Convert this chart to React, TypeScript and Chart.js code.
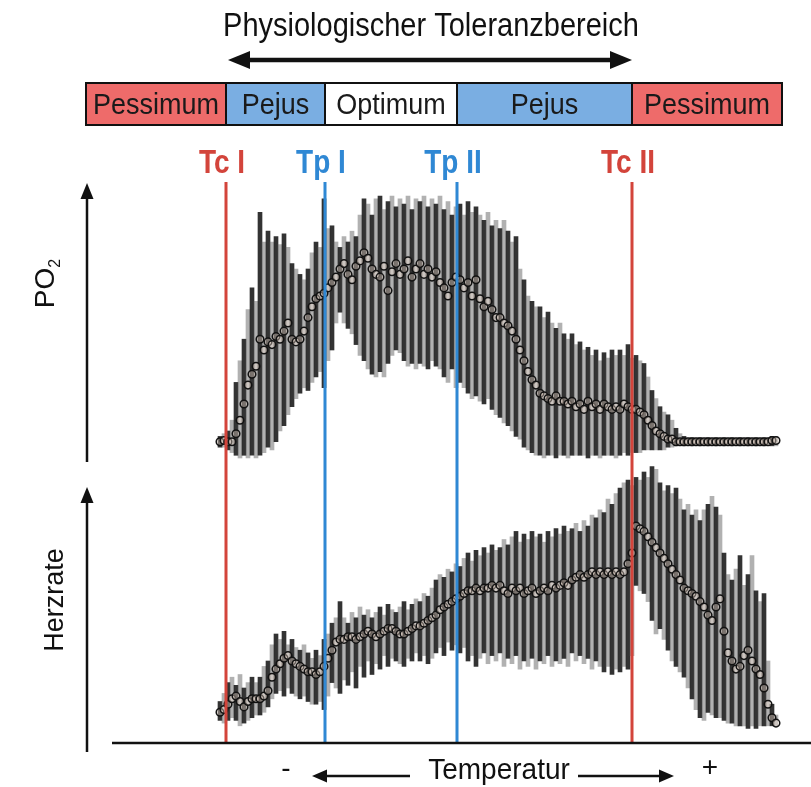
import React, { useEffect, useRef } from "react";
import { Chart, registerables } from "chart.js";

Chart.register(...registerables);

// PO2 per temperature step: mean with lower / upper limits of the spread
const po2Mean = [
  6, 6.5, 6, 6, 9, 14, 20, 27, 31, 34,
  44, 40, 43, 42, 45, 44, 47, 50, 44, 43,
  44, 47, 52, 56, 59, 60, 61, 63, 65, 67,
  70, 72, 68, 66, 71, 73, 76, 74, 70, 68,
  67, 71, 62, 69, 72, 68, 70, 73, 67, 70,
  72, 68, 70, 67, 69, 65, 63, 60, 65, 67,
  66, 63, 65, 60, 66, 59, 56, 58, 55, 52,
  52, 50, 49, 47, 44, 40, 36, 32, 29, 27,
  24, 23, 22, 21, 23, 21, 21, 20, 21, 19,
  20, 18, 21, 19, 20, 18, 20, 19, 18, 19,
  18, 20, 19, 18, 18, 17, 16, 14, 12, 10,
  9, 8, 7, 7, 6, 6, 6, 6, 6, 6,
  6, 6, 6, 6, 6, 6, 6, 6, 6, 6,
  6, 6, 6, 6, 6, 6, 6, 6, 6.5, 6.5,
];
const po2Low = [
  4, 4, 3, 2, 1, 0, 1, 0, 1, 0,
  1, 2, 4, 3, 6, 10, 12, 16, 19, 22,
  24, 26, 25, 28, 30, 32, 26, 36, 40, 50,
  54, 50, 48, 46, 42, 38, 36, 33, 31, 30,
  32, 30, 35, 38, 40, 39, 36, 34, 35, 33,
  35, 34, 33, 36, 34, 33, 30, 28, 33, 26,
  28, 26, 24, 22, 23, 21, 20, 22, 18, 16,
  15, 13, 12, 10, 8, 7, 4, 3, 2, 1,
  1, 0, 1, 1, 0, 1, 1, 0, 1, 1,
  1, 1, 0, 1, 1, 0, 1, 1, 1, 0,
  1, 2, 1, 2, 2, 2, 3, 3, 3, 3,
  3, 3, 4, 4, 4.5, 4.5, 4.5, 4.5, 4.5, 4.5,
  4.5, 4.5, 4.5, 4.5, 4.5, 4.5, 4.5, 4.5, 4.5, 4.5,
  4.5, 4.5, 4.5, 4.5, 4.5, 4.5, 4.5, 4.5, 4.5, 4.5,
];
const po2High = [
  8, 9, 10, 14, 28, 36, 44, 55, 63, 58,
  91, 80, 84, 80, 82, 79, 83, 78, 72, 70,
  68, 66, 70, 76, 80, 78, 96, 85, 86, 80,
  78, 82, 80, 84, 82, 90, 96, 94, 90, 96,
  97, 92, 95, 97, 93, 96, 94, 97, 92, 96,
  95, 97, 93, 96, 94, 97, 92, 95, 90, 93,
  94, 90, 95, 91, 93, 90, 88, 91, 86, 88,
  85, 88, 84, 80, 82, 70, 66, 60, 58, 56,
  56, 52, 54, 50, 48, 50, 46, 44, 46, 42,
  43, 40, 41, 38, 40, 36, 39, 37, 40, 38,
  40, 38, 42, 37, 38, 36, 35, 30, 25, 22,
  19, 17, 16, 14, 11, 9, 8, 7.5, 7.5, 7.5,
  7.5, 7.5, 7.5, 7.5, 7.5, 7.5, 7.5, 7.5, 7.5, 7.5,
  7.5, 7.5, 7.5, 7.5, 7.5, 7.5, 7.5, 7.5, 8, 8,
];

// heart rate per temperature step: mean with lower / upper limits
const hrMean = [
  11, 12, 14, 16, 17, 15, 13, 15, 16, 16,
  16, 17, 19, 24, 27, 29, 31, 32, 30, 29,
  28, 27, 26, 26, 25, 26, 28, 31, 34, 37,
  38, 38, 39, 39, 38, 39, 40, 41, 40, 39,
  40, 41, 42, 42, 41, 40, 40, 41, 42, 43,
  43, 44, 45, 46, 47, 49, 50, 51, 52, 53,
  54, 55, 56, 56, 57, 56, 57, 57, 58, 57,
  58, 56, 55, 57, 56, 57, 55, 56, 57, 55,
  56, 57, 56, 58, 57, 58, 59, 58, 60, 61,
  62, 61, 62, 63, 62, 63, 62, 63, 62, 63,
  62, 63, 66, 70, 80, 79, 78, 76, 74, 72,
  70, 68, 66, 64, 62, 60, 57, 56, 55, 54,
  52, 50, 47, 45, 50, 53, 41, 33, 30, 27,
  28, 32, 34, 30, 27, 25, 20, 14, 9, 7,
];
const hrLow = [
  8, 7, 8, 9, 8, 6, 7, 8, 9, 10,
  10, 11, 13, 16, 18, 19, 17, 20, 18, 17,
  16, 17, 15, 14, 14, 15, 12, 17, 22, 20,
  18, 23, 21, 26, 20, 28, 24, 30, 25, 29,
  27, 32, 28, 31, 30, 29, 28, 31, 30, 33,
  30, 32, 29, 31, 33, 35, 32, 37, 34, 36,
  33, 35, 30, 32, 28, 31, 33, 29, 32, 30,
  33, 28, 31, 29, 32, 27, 30, 28, 31, 27,
  30, 29, 32, 28, 30, 29, 31, 28, 33, 30,
  32, 29, 31, 27, 30, 28, 26, 28, 25, 27,
  26, 28, 27, 32, 58, 56, 55, 52, 45, 40,
  42, 38, 34, 30, 28, 26, 24, 20, 16, 12,
  9, 8, 11, 10, 9, 9, 8, 7, 7, 6,
  6, 6, 5, 6, 5, 6, 6, 6, 6, 6,
];
const hrHigh = [
  15, 18, 22, 24, 21, 25, 20, 22, 24, 22,
  24, 28, 30, 36, 40, 38, 41, 36, 38, 35,
  34, 36, 33, 31, 34, 32, 38, 40, 44, 46,
  52, 46, 44, 48, 46, 50, 47, 49, 46, 48,
  50, 47, 51, 49, 48, 50, 52, 49, 51, 53,
  52, 55, 54, 57, 60, 62, 61, 64, 63, 66,
  65, 68, 70, 67, 71, 69, 72, 70, 73, 71,
  72, 75, 73, 76, 78, 74, 77, 75, 78, 76,
  77, 74, 78, 76, 79, 77, 80, 78, 79, 81,
  78, 82, 80, 84, 83, 86, 85, 90, 88, 92,
  94, 96, 97, 95, 98, 97, 100, 98, 102, 101,
  96, 93, 95, 92, 94, 90, 86, 88, 84, 86,
  82, 86, 88, 91, 87, 84, 70, 62, 60, 64,
  69, 58, 62, 69, 56, 52, 55, 30, 14, 10,
];

// thresholds on the temperature-step axis
const tcI = 1.5;
const tpI = 26.25;
const tpII = 59.25;
const tcII = 103;
const bandStart = -33.5;
const bandEnd = 140.5;

const zoneLabels = ["Pessimum", "Pejus", "Optimum", "Pejus", "Pessimum"];
const zoneBounds = [bandStart, tcI, tpI, tpII, tcII, bandEnd];
const thresholdLabels = ["Tc I", "Tp I", "Tp II", "Tc II"];
const thresholdValues = [tcI, tpI, tpII, tcII];

const FONT = '"Liberation Sans", Arial, Helvetica, sans-serif';
const RED_FILL = "#ee6b6a";
const BLUE_FILL = "#7aaee2";
const LINE_RED = "#d3443b";
const LINE_BLUE = "#2f88d4";
const zoneColors = [RED_FILL, BLUE_FILL, "#ffffff", BLUE_FILL, RED_FILL];
const thresholdColors = [LINE_RED, LINE_BLUE, LINE_BLUE, LINE_RED];

function stretchedText(
  ctx: CanvasRenderingContext2D,
  text: string,
  x: number,
  y: number,
  font: string,
  color: string,
  sy: number,
  align: CanvasTextAlign = "center"
) {
  ctx.save();
  ctx.translate(x, y);
  ctx.scale(1, sy);
  ctx.font = font;
  ctx.fillStyle = color;
  ctx.textAlign = align;
  ctx.textBaseline = "alphabetic";
  ctx.fillText(text, 0, 0);
  ctx.restore();
}

function arrowHead(
  ctx: CanvasRenderingContext2D,
  tipX: number,
  tipY: number,
  dx: number,
  dy: number,
  len: number,
  half: number
) {
  const bx = tipX - dx * len;
  const by = tipY - dy * len;
  ctx.beginPath();
  ctx.moveTo(tipX, tipY);
  ctx.lineTo(bx - dy * half, by + dx * half);
  ctx.lineTo(bx + dy * half, by - dx * half);
  ctx.closePath();
  ctx.fill();
}

const overlay = {
  id: "toleranceOverlay",
  afterDatasetsDraw(chart: any) {
    const ctx: CanvasRenderingContext2D = chart.ctx;
    const xs = chart.scales.x;
    const { top, bottom, left, right } = chart.chartArea;
    ctx.save();
    thresholdValues.forEach((v, i) => {
      const px = xs.getPixelForValue(v);
      ctx.strokeStyle = thresholdColors[i];
      ctx.lineWidth = 3;
      ctx.beginPath();
      ctx.moveTo(px, top);
      ctx.lineTo(px, bottom - 1);
      ctx.stroke();
    });
    ctx.strokeStyle = "#111";
    ctx.lineWidth = 2.5;
    ctx.beginPath();
    ctx.moveTo(left, bottom - 1);
    ctx.lineTo(right, bottom - 1);
    ctx.stroke();
    ctx.restore();
  },
  afterDraw(chart: any) {
    const ctx: CanvasRenderingContext2D = chart.ctx;
    const xs = chart.scales.x;
    ctx.save();

    // title and tolerance range arrow
    stretchedText(ctx, "Physiologischer Toleranzbereich", 431, 36, `29px ${FONT}`, "#111", 1.15);
    const a0 = xs.getPixelForValue(tcI) + 2;
    const a1 = xs.getPixelForValue(tcII);
    ctx.strokeStyle = "#111";
    ctx.fillStyle = "#111";
    ctx.lineWidth = 4.5;
    ctx.beginPath();
    ctx.moveTo(a0 + 16, 60);
    ctx.lineTo(a1 - 16, 60);
    ctx.stroke();
    arrowHead(ctx, a0, 60, -1, 0, 22, 9);
    arrowHead(ctx, a1, 60, 1, 0, 22, 9);

    // zone band
    const bTop = 83;
    const bBot = 125;
    for (let i = 0; i < zoneLabels.length; i++) {
      const l = xs.getPixelForValue(zoneBounds[i]);
      const r = xs.getPixelForValue(zoneBounds[i + 1]);
      ctx.fillStyle = zoneColors[i];
      ctx.fillRect(l, bTop, r - l, bBot - bTop);
      stretchedText(ctx, zoneLabels[i], (l + r) / 2, 114, `27px ${FONT}`, "#1a1a1a", 1.12);
    }
    ctx.strokeStyle = "#111";
    ctx.lineWidth = 2;
    const bl = xs.getPixelForValue(bandStart);
    const br = xs.getPixelForValue(bandEnd);
    ctx.strokeRect(bl, bTop, br - bl, bBot - bTop);
    for (let i = 1; i < zoneBounds.length - 1; i++) {
      const p = xs.getPixelForValue(zoneBounds[i]);
      ctx.beginPath();
      ctx.moveTo(p, bTop);
      ctx.lineTo(p, bBot);
      ctx.stroke();
    }

    // threshold labels
    thresholdValues.forEach((v, i) => {
      const px = xs.getPixelForValue(v);
      stretchedText(ctx, thresholdLabels[i], px - 4, 173, `bold 28px ${FONT}`, thresholdColors[i], 1.2);
    });

    // response axes arrows
    ctx.fillStyle = "#111";
    ctx.strokeStyle = "#111";
    ctx.lineWidth = 2.5;
    ctx.beginPath();
    ctx.moveTo(87, 462);
    ctx.lineTo(87, 195);
    ctx.moveTo(87, 752);
    ctx.lineTo(87, 499);
    ctx.stroke();
    arrowHead(ctx, 87, 183, 0, -1, 16, 6.5);
    arrowHead(ctx, 87, 487, 0, -1, 16, 6.5);

    // PO2 label
    ctx.save();
    ctx.translate(54, 284);
    ctx.rotate(-Math.PI / 2);
    ctx.fillStyle = "#111";
    ctx.textBaseline = "alphabetic";
    ctx.font = `28px ${FONT}`;
    const poW = ctx.measureText("PO").width;
    ctx.textAlign = "left";
    ctx.fillText("PO", -(poW + 8) / 2, 0);
    ctx.font = `16px ${FONT}`;
    ctx.fillText("2", -(poW + 8) / 2 + poW, 6);
    ctx.restore();

    // Herzrate label
    ctx.save();
    ctx.translate(63, 600);
    ctx.rotate(-Math.PI / 2);
    ctx.fillStyle = "#111";
    ctx.textAlign = "center";
    ctx.textBaseline = "alphabetic";
    ctx.font = `27px ${FONT}`;
    ctx.fillText("Herzrate", 0, 0);
    ctx.restore();

    // temperature axis labels
    stretchedText(ctx, "Temperatur", 499, 779, `28px ${FONT}`, "#111", 1.05);
    stretchedText(ctx, "-", 286, 777, `28px ${FONT}`, "#111", 1.0);
    stretchedText(ctx, "+", 710, 776, `28px ${FONT}`, "#111", 1.0);
    ctx.lineWidth = 2.5;
    ctx.beginPath();
    ctx.moveTo(410, 776);
    ctx.lineTo(324, 776);
    ctx.moveTo(578, 776);
    ctx.lineTo(662, 776);
    ctx.stroke();
    arrowHead(ctx, 312, 776, -1, 0, 15, 6.5);
    arrowHead(ctx, 674, 776, 1, 0, 15, 6.5);

    ctx.restore();
  },
};

const steps = po2Mean.map((_, i) => i);
const barColor = (c: any) =>
  c.dataIndex % 2 === 0 ? "rgba(15,15,15,0.85)" : "rgba(100,100,100,0.5)";

export default function App() {
  const ref = useRef<HTMLCanvasElement | null>(null);

  useEffect(() => {
    if (!ref.current) return;
    const pointStyle = {
      showLine: false,
      pointRadius: 3.8,
      pointBorderWidth: 1.5,
      pointBorderColor: "#121212",
      pointBackgroundColor: "rgba(255,236,220,0.35)",
      order: 0,
    };
    const chart = new Chart(ref.current, {
      type: "bar",
      data: {
        datasets: [
          {
            type: "line",
            label: "PO2",
            data: steps.map((s) => ({ x: s, y: po2Mean[s] })),
            yAxisID: "yP",
            ...pointStyle,
          },
          {
            type: "line",
            label: "Herzrate",
            data: steps.map((s) => ({ x: s, y: hrMean[s] })),
            yAxisID: "yH",
            ...pointStyle,
          },
          {
            type: "bar",
            label: "PO2 Streuung",
            data: steps.map((s) => ({ x: s, y: [po2Low[s], po2High[s]] })),
            yAxisID: "yP",
            grouped: false,
            barThickness: 4,
            borderWidth: 0,
            backgroundColor: barColor,
            order: 1,
          },
          {
            type: "bar",
            label: "Herzrate Streuung",
            data: steps.map((s) => ({ x: s, y: [hrLow[s], hrHigh[s]] })),
            yAxisID: "yH",
            grouped: false,
            barThickness: 4,
            borderWidth: 0,
            backgroundColor: barColor,
            order: 1,
          },
        ] as any,
      },
      options: {
        responsive: false,
        animation: false,
        events: [],
        layout: { autoPadding: false, padding: { left: 112, right: 0, top: 182, bottom: 43 } },
        plugins: {
          legend: { display: false },
          tooltip: { enabled: false },
          title: { display: false },
        },
        scales: {
          x: { type: "linear", min: -27, max: 147.75, display: false, offset: false, grid: { offset: false } },
          yP: { type: "linear", min: -105.93, max: 102.22, display: false },
          yH: { type: "linear", min: -0.74, max: 207.41, display: false },
        },
      } as any,
      plugins: [overlay],
    });
    return () => chart.destroy();
  }, []);

  return (
    <div style={{ position: "fixed", left: 0, top: 0, width: 811, height: 787, background: "#fff" }}>
      <canvas ref={ref} width={811} height={787} style={{ display: "block" }} />
    </div>
  );
}
